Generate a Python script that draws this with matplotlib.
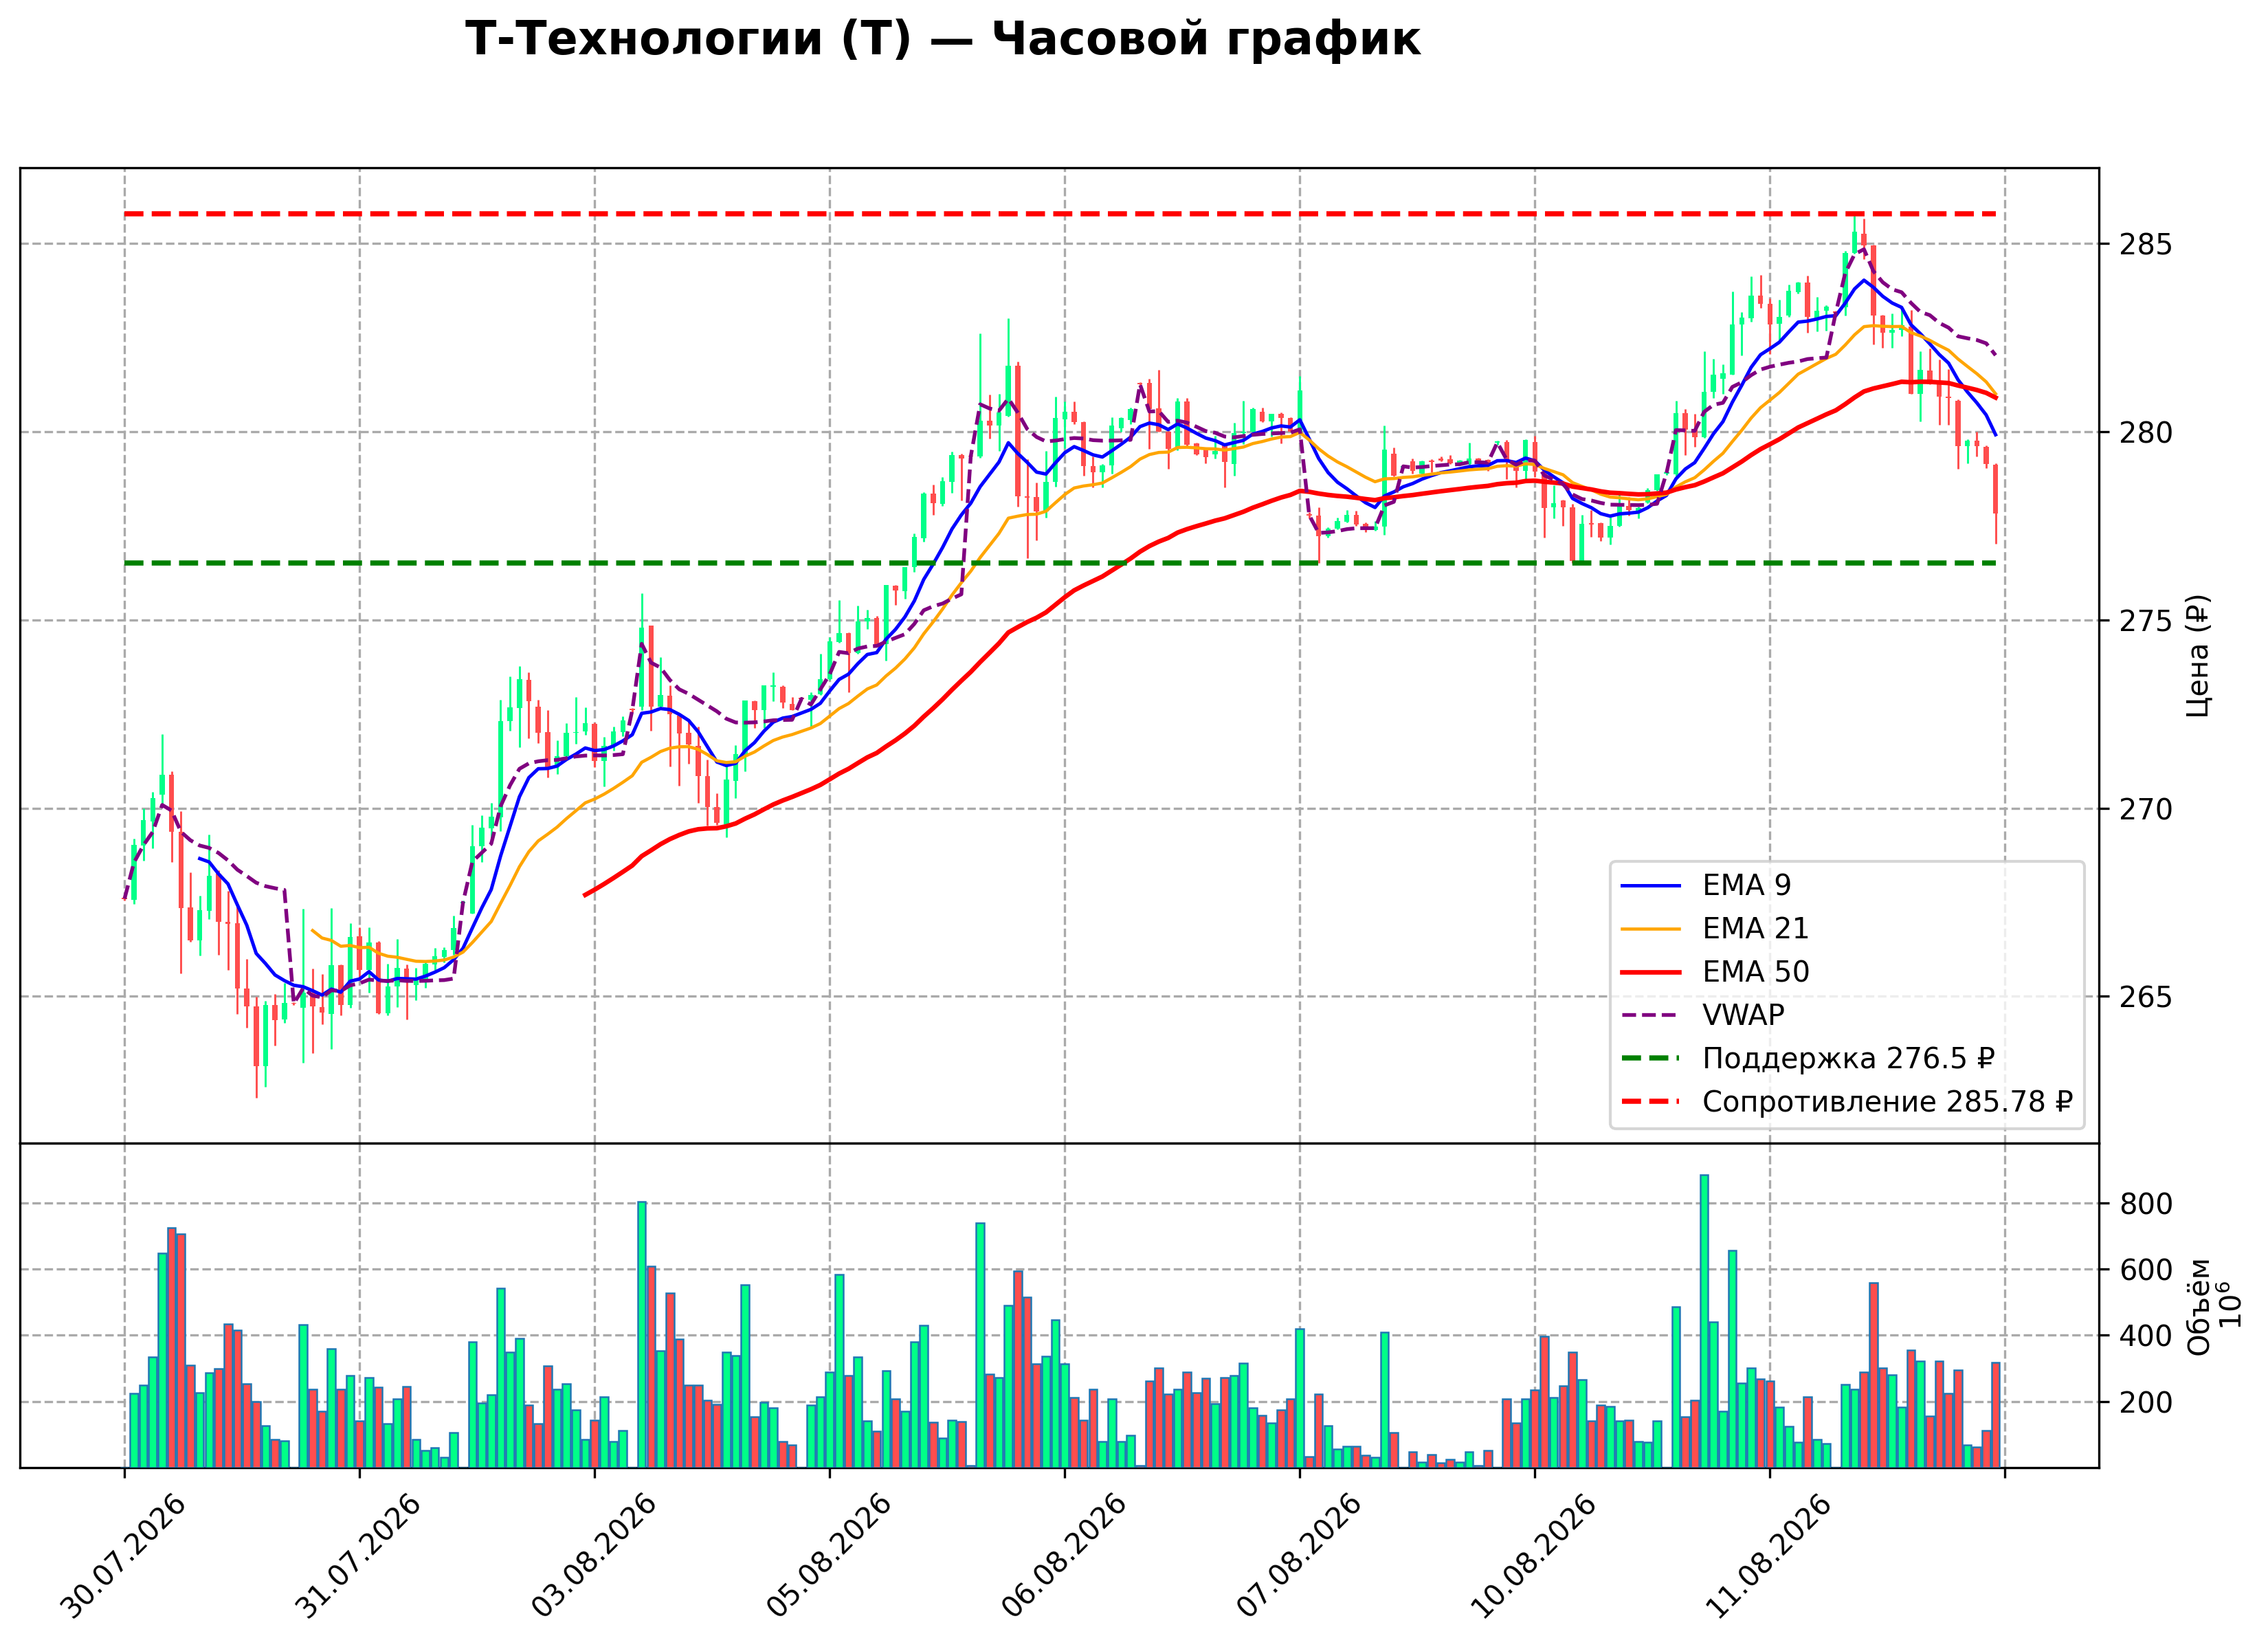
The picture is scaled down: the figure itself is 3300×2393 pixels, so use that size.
import numpy as np
import matplotlib
matplotlib.use("Agg")
import matplotlib.pyplot as plt

# hourly candles, index 0..199
opens = [
    267.62, 267.56, 269.00, 269.65, 270.35, 270.89, 269.37, 267.37, 266.48, 267.27,
    268.25, 266.98, 266.95, 265.20, 264.73, 263.15, 264.78, 264.39, 264.82, 264.70,
    265.10, 264.72, 264.53, 265.83, 264.78, 266.59, 265.70, 266.43, 264.56, 265.27,
    265.73, 265.30, 265.44, 265.84, 266.05, 266.24, 267.48, 267.20, 268.99, 269.46,
    269.76, 272.31, 272.65, 273.40, 272.69, 272.01, 271.08, 271.37, 271.99, 272.03,
    272.23, 271.25, 271.66, 272.02, 272.62, 272.69, 274.85, 272.69, 272.99, 272.45,
    271.99, 271.66, 270.85, 270.02, 269.58, 270.73, 271.43, 272.83, 272.60, 273.22,
    273.22, 272.77, 272.92, 272.87, 273.02, 273.42, 274.41, 274.64, 274.12, 274.96,
    275.04, 274.35, 275.90, 275.75, 276.40, 277.17, 278.35, 278.08, 278.66, 279.37,
    279.36, 279.33, 280.29, 280.16, 280.42, 281.75, 278.28, 278.26, 277.88, 278.66,
    280.33, 280.53, 280.24, 279.08, 278.92, 279.09, 280.09, 280.30, 281.27, 281.29,
    280.62, 280.00, 279.54, 280.80, 279.68, 279.54, 279.39, 279.65, 279.14, 279.95,
    280.00, 280.53, 280.27, 280.47, 280.36, 280.00, 277.80, 277.77, 277.21, 277.42,
    277.60, 277.79, 277.54, 277.38, 277.48, 279.41, 279.05, 279.21, 278.88, 279.23,
    279.29, 279.27, 279.15, 279.13, 279.28, 279.25, 279.70, 279.72, 279.13, 278.96,
    279.72, 278.93, 277.99, 278.16, 277.99, 276.57, 277.56, 277.57, 277.18, 277.49,
    278.02, 277.90, 278.11, 278.45, 278.88, 278.87, 280.49, 280.05, 279.85, 281.05,
    281.40, 281.51, 282.84, 283.00, 283.61, 283.38, 282.85, 283.08, 283.69, 283.95,
    283.00, 283.20, 283.17, 283.29, 284.74, 285.25, 284.94, 283.07, 282.63, 282.70,
    282.79, 280.99, 281.62, 281.25, 280.92, 280.82, 279.61, 279.75, 279.60, 279.12,
]
highs = [
    267.65, 269.18, 270.00, 270.43, 271.97, 270.97, 269.91, 268.30, 267.67, 269.30,
    268.34, 267.80, 267.40, 266.00, 264.99, 264.88, 265.06, 265.35, 264.85, 267.33,
    265.74, 265.60, 267.35, 265.85, 266.95, 266.84, 266.84, 266.47, 265.86, 266.52,
    265.84, 265.76, 265.92, 266.28, 266.30, 267.14, 267.55, 269.56, 269.80, 270.14,
    272.87, 273.49, 273.76, 273.60, 272.87, 272.61, 271.80, 272.26, 272.95, 272.68,
    272.28, 271.89, 272.16, 272.43, 272.65, 275.70, 274.85, 274.00, 273.26, 272.48,
    272.36, 272.17, 271.29, 270.40, 271.14, 271.67, 272.86, 272.86, 273.25, 273.60,
    273.25, 272.95, 272.95, 273.07, 274.09, 274.53, 275.52, 274.66, 275.38, 275.27,
    275.10, 275.92, 275.92, 276.40, 277.30, 278.38, 278.59, 278.79, 279.46, 279.40,
    279.38, 282.61, 280.98, 281.00, 283.01, 281.86, 279.26, 278.64, 279.49, 280.92,
    280.79, 280.79, 280.26, 279.33, 279.14, 280.38, 280.38, 280.64, 281.30, 281.40,
    281.64, 280.02, 280.89, 280.89, 279.70, 279.56, 279.89, 279.67, 280.23, 280.81,
    280.64, 280.64, 280.47, 280.51, 280.38, 281.47, 277.85, 277.99, 277.45, 277.71,
    277.92, 277.89, 277.58, 277.62, 280.15, 279.57, 279.12, 279.28, 279.23, 279.27,
    279.33, 279.37, 279.25, 279.70, 279.30, 279.26, 279.75, 279.77, 279.23, 279.80,
    279.88, 279.00, 278.57, 278.18, 278.08, 277.79, 277.91, 277.59, 277.73, 278.35,
    278.26, 278.00, 278.49, 278.87, 278.95, 280.82, 280.60, 280.46, 282.13, 281.92,
    281.78, 283.72, 283.16, 284.12, 284.16, 283.54, 283.50, 283.89, 283.97, 284.13,
    283.57, 283.35, 283.20, 284.80, 285.72, 285.66, 284.96, 283.09, 283.14, 283.26,
    283.23, 282.13, 282.20, 281.91, 281.65, 280.85, 279.79, 279.99, 279.62, 279.16,
]
lows = [
    267.55, 267.46, 268.60, 268.93, 270.07, 268.57, 265.61, 266.45, 266.09, 267.06,
    266.10, 265.70, 264.53, 264.17, 262.30, 262.60, 263.70, 264.30, 264.78, 263.23,
    263.49, 264.26, 263.60, 264.50, 264.70, 265.45, 265.10, 264.53, 264.50, 264.71,
    264.39, 264.90, 265.22, 265.70, 265.90, 266.10, 267.45, 267.20, 268.56, 269.09,
    269.38, 272.06, 271.62, 271.86, 271.72, 270.81, 270.91, 271.30, 271.70, 271.95,
    271.08, 270.57, 271.52, 271.90, 272.55, 272.60, 272.05, 272.65, 271.11, 270.60,
    271.17, 270.14, 269.53, 269.56, 269.23, 270.26, 270.97, 272.13, 272.13, 272.84,
    272.65, 272.60, 272.85, 272.17, 273.00, 273.40, 274.39, 273.08, 274.10, 274.75,
    274.30, 273.91, 275.40, 275.55, 276.27, 277.07, 277.78, 278.03, 278.37, 278.16,
    279.30, 279.30, 279.81, 279.49, 280.40, 278.01, 276.63, 277.11, 277.71, 278.54,
    279.56, 280.20, 278.83, 278.51, 278.51, 278.88, 280.00, 280.20, 281.20, 279.53,
    280.00, 279.00, 279.50, 279.60, 279.38, 279.16, 279.28, 278.52, 278.82, 279.67,
    279.98, 280.25, 279.86, 279.68, 280.00, 279.98, 277.70, 276.50, 277.18, 277.40,
    277.58, 277.50, 277.32, 277.36, 277.26, 278.80, 279.02, 278.88, 278.86, 278.91,
    279.20, 279.13, 279.10, 279.11, 279.15, 278.96, 279.65, 278.73, 278.52, 278.73,
    278.79, 277.18, 277.70, 277.49, 276.50, 276.55, 277.20, 277.09, 277.00, 277.47,
    277.77, 277.70, 278.09, 278.43, 278.85, 278.80, 279.38, 279.60, 279.83, 280.88,
    281.00, 281.50, 282.01, 282.91, 283.28, 282.06, 282.41, 283.05, 283.67, 282.62,
    282.66, 282.68, 283.10, 283.07, 284.72, 284.58, 282.31, 282.22, 282.22, 282.53,
    280.99, 280.27, 281.25, 280.18, 280.18, 279.01, 279.16, 279.33, 279.03, 277.02,
]
closes = [
    267.58, 269.03, 269.68, 270.27, 270.89, 269.37, 267.34, 266.48, 267.29, 268.21,
    266.98, 266.93, 265.20, 264.73, 263.15, 264.78, 264.37, 264.82, 264.80, 265.10,
    264.73, 264.57, 265.83, 264.78, 266.57, 265.70, 266.43, 264.56, 265.27, 265.76,
    265.44, 265.42, 265.86, 266.06, 266.24, 266.82, 267.50, 268.99, 269.48, 269.78,
    272.31, 272.67, 273.43, 272.83, 271.99, 271.08, 271.37, 271.99, 272.00, 272.25,
    271.25, 271.66, 272.03, 272.33, 272.60, 274.79, 272.69, 273.01, 272.50, 271.98,
    271.68, 270.84, 270.02, 269.61, 270.75, 271.43, 272.86, 272.60, 273.25, 273.25,
    272.81, 272.60, 272.90, 273.00, 273.43, 274.42, 274.64, 274.12, 274.96, 275.04,
    274.33, 275.92, 275.78, 276.40, 277.20, 278.35, 278.10, 278.68, 279.37, 279.29,
    279.33, 280.29, 280.16, 280.50, 281.75, 278.28, 278.24, 277.88, 278.66, 280.35,
    280.52, 280.24, 279.08, 278.92, 279.09, 280.15, 280.35, 280.60, 281.25, 280.60,
    280.00, 279.54, 280.80, 279.65, 279.39, 279.32, 279.48, 279.19, 279.95, 280.00,
    280.60, 280.27, 280.47, 280.36, 280.00, 281.08, 277.77, 277.21, 277.42, 277.62,
    277.79, 277.52, 277.38, 277.48, 279.51, 278.82, 279.08, 278.96, 279.21, 279.19,
    279.23, 279.15, 279.22, 279.28, 279.19, 279.13, 279.72, 279.25, 278.96, 279.77,
    278.93, 277.97, 278.10, 277.99, 276.57, 277.55, 277.53, 277.18, 277.49, 278.05,
    277.91, 277.96, 278.45, 278.87, 278.90, 280.49, 280.05, 279.85, 281.05, 281.51,
    281.54, 282.84, 283.02, 283.61, 283.38, 282.84, 283.05, 283.73, 283.95, 283.04,
    283.21, 283.32, 283.15, 284.74, 285.30, 284.94, 283.07, 282.63, 282.70, 282.83,
    280.99, 281.64, 281.25, 280.92, 280.89, 279.61, 279.75, 279.61, 279.14, 277.82,
]
# volume, millions
volumes = [
    1, 225, 249, 334, 647, 725, 706, 310, 227, 286,
    300, 435, 416, 253, 200, 127, 86, 82, 1, 432,
    237, 170, 359, 237, 278, 142, 273, 243, 132, 208,
    245, 85, 52, 60, 31, 105, 1, 381, 196, 220,
    542, 348, 390, 190, 132, 308, 237, 253, 175, 86,
    144, 215, 78, 113, 1, 804, 609, 354, 527, 388,
    249, 249, 203, 191, 350, 339, 552, 153, 197, 181,
    79, 69, 1, 189, 214, 288, 584, 278, 335, 142,
    110, 293, 207, 170, 380, 429, 137, 89, 144, 139,
    7, 740, 283, 273, 491, 593, 515, 313, 337, 447,
    313, 212, 144, 237, 78, 208, 78, 97, 7, 261,
    302, 222, 237, 289, 227, 270, 194, 272, 278, 315,
    181, 157, 135, 175, 208, 420, 34, 222, 127, 57,
    64, 64, 38, 31, 410, 105, 1, 48, 17, 39,
    14, 26, 17, 47, 7, 53, 1, 208, 136, 208,
    234, 396, 211, 247, 348, 266, 142, 189, 185, 141,
    144, 80, 77, 142, 1, 486, 153, 204, 884, 441,
    170, 656, 256, 302, 268, 262, 183, 124, 76, 215,
    86, 72, 1, 252, 237, 289, 559, 302, 280, 183,
    356, 323, 155, 321, 225, 294, 69, 63, 112, 317,
]
session_starts = [0, 18, 36, 54, 72, 90, 108, 126, 136, 146, 164, 182]
tick_labels = ["30.07.2026", "31.07.2026", "03.08.2026", "05.08.2026",
               "06.08.2026", "07.08.2026", "10.08.2026", "11.08.2026", ""]
support = 276.5
resistance = 285.78

o = np.array(opens)
h = np.array(highs)
l = np.array(lows)
c = np.array(closes)
v = np.array(volumes, dtype=float)
x = np.arange(len(c))


def ema(values, n):
    # first value is the simple average of n closes
    out = np.full(len(values), np.nan)
    out[n - 1] = values[:n].mean()
    a = 2 / (n + 1)
    for i in range(n, len(values)):
        out[i] = a * values[i] + (1 - a) * out[i - 1]
    return out


# VWAP restarts every session
tp = (h + l + c) / 3
vwap = np.empty(len(c))
bounds = session_starts + [len(c)]
for a, b in zip(bounds[:-1], bounds[1:]):
    vwap[a:b] = np.cumsum(tp[a:b] * v[a:b]) / np.cumsum(v[a:b])

up = "#00ff88"
down = "#ff4d4d"
colors = np.where(c >= o, up, down)

plt.rcParams["font.size"] = 10

fig = plt.figure(figsize=(11, 2393 / 300), dpi=300)
ax = fig.add_axes([0.0089, 0.305, 0.9166, 0.593])
axv = fig.add_axes([0.0089, 0.108, 0.9166, 0.197], sharex=ax)

grid_kw = dict(linestyle="--", color="#aaaaaa", linewidth=0.8)

ax.vlines(x, l, h, colors=colors, linewidth=0.7, zorder=2)
ax.bar(x, np.maximum(np.abs(c - o), 0.03), bottom=np.minimum(o, c),
       width=0.55, color=colors, zorder=3)
ax.plot(x, ema(c, 9), color="blue", linewidth=1.2, label="EMA 9", zorder=4)
ax.plot(x, ema(c, 21), color="orange", linewidth=1.1, label="EMA 21", zorder=4)
ax.plot(x, ema(c, 50), color="red", linewidth=1.6, label="EMA 50", zorder=4)
ax.plot(x, vwap, color="purple", linestyle="--", linewidth=1.3, label="VWAP", zorder=4)
ax.plot(x, np.full(len(x), support), color="green", linestyle="--", linewidth=1.8,
        label=f"Поддержка {support} ₽", zorder=4)
ax.plot(x, np.full(len(x), resistance), color="red", linestyle="--", linewidth=1.8,
        label=f"Сопротивление {resistance} ₽", zorder=4)

ax.set_ylim(261.1, 287.0)
ax.set_xlim(-11.1, 210.0)
ax.set_yticks([265, 270, 275, 280, 285])
ax.yaxis.tick_right()
ax.yaxis.set_label_position("right")
ax.set_ylabel("Цена (₽)")
ax.tick_params(axis="x", length=0, labelbottom=False)
ax.grid(True, **grid_kw)
ax.set_axisbelow(True)
ax.legend(loc="lower right")

axv.bar(x, v, width=0.85, color=colors, edgecolor="#1f77b4", linewidth=0.6, zorder=3)
axv.set_ylim(1, 980)
axv.set_yticks([200, 400, 600, 800])
axv.yaxis.tick_right()
axv.yaxis.set_label_position("right")
axv.set_ylabel("Объём\n$10^{6}$")
axv.set_xticks(np.arange(0, 201, 25))
axv.set_xticklabels(tick_labels, rotation=45, ha="center")
axv.grid(True, **grid_kw)
axv.set_axisbelow(True)

fig.text(0.416, 0.975, "Т-Технологии (T) — Часовой график", ha="center", va="center",
         fontsize=16, fontweight="bold")

fig.savefig("out.png", dpi=300)
